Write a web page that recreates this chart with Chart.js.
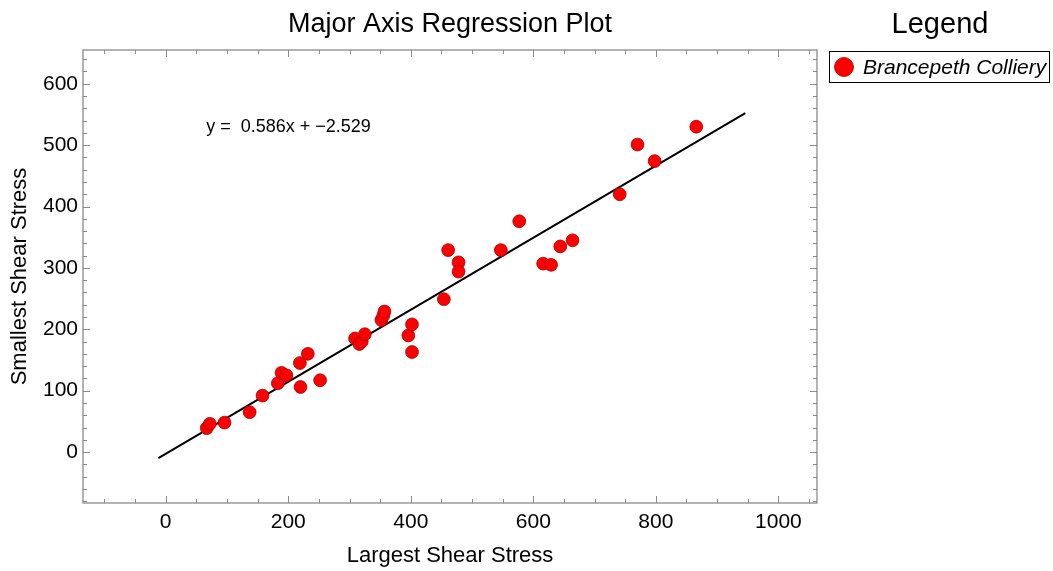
<!DOCTYPE html>
<html>
<head>
<meta charset="utf-8">
<script src="https://cdn.jsdelivr.net/npm/chart.js@4/dist/chart.umd.min.js"></script>
<style>
html,body{margin:0;padding:0;background:#fff;}
#c{display:block;}
</style>
</head>
<body>
<canvas id="c" width="1053" height="571"></canvas>
<script>
// ---- data ----
const largestShear = [67, 72, 96, 137, 158, 183, 189, 197, 220, 219, 232, 252,
  309, 316, 320, 325, 352, 355, 357, 396, 402, 402, 454, 461, 478, 478, 547,
  577, 616, 629, 644, 664, 741, 770, 798, 866];
const smallestShear = [39, 46, 48, 65, 92, 112, 129, 125, 106, 145, 160, 117,
  185, 176, 180, 192, 215, 222, 229, 190, 208, 163, 249, 329, 309, 294, 329,
  376, 307, 305, 335, 345, 420, 501, 474, 530];
const seriesName = 'Brancepeth Colliery';
const lineX = [-12, 946];
const lineY = [-10, 552];
const equationText = 'y =  0.586x + \u22122.529';
const equationAt = [66, 530];
const xTickValues = [0, 200, 400, 600, 800, 1000];
const yTickValues = [0, 100, 200, 300, 400, 500, 600];
const xRange = [-135, 1063];
const yRange = [-83, 655];
const chartTitle = 'Major Axis Regression Plot';
const legendTitle = 'Legend';
const xTitle = 'Largest Shear Stress';
const yTitle = 'Smallest Shear Stress';

const FONT = '"Liberation Sans", Arial, Helvetica, sans-serif';
const points = largestShear.map((x, i) => ({x: x, y: smallestShear[i]}));
const linePts = lineX.map((x, i) => ({x: x, y: lineY[i]}));

const xMinor = []; for (let v = -100; v <= 1050; v += 50) xMinor.push(v);
const yMinor = []; for (let v = -80; v <= 640; v += 20) yMinor.push(v);

const decorPlugin = {
  id: 'decor',
  afterDatasetsDraw(chart) {
    const ctx = chart.ctx, a = chart.chartArea;
    const xs = chart.scales.x, ys = chart.scales.y;
    ctx.save();
    ctx.strokeStyle = '#8a8a8a';
    ctx.lineWidth = 1.3;
    ctx.strokeRect(a.left, a.top, a.right - a.left, a.bottom - a.top);
    ctx.lineWidth = 1;
    ctx.beginPath();
    xMinor.forEach(v => {
      const p = Math.round(xs.getPixelForValue(v)) + 0.5;
      const len = xTickValues.includes(v) ? 7 : 4;
      ctx.moveTo(p, a.bottom); ctx.lineTo(p, a.bottom - len);
      ctx.moveTo(p, a.top); ctx.lineTo(p, a.top + len);
    });
    yMinor.forEach(v => {
      const p = Math.round(ys.getPixelForValue(v)) + 0.5;
      const len = yTickValues.includes(v) ? 7 : 4;
      ctx.moveTo(a.left, p); ctx.lineTo(a.left + len, p);
      ctx.moveTo(a.right, p); ctx.lineTo(a.right - len, p);
    });
    ctx.stroke();
    ctx.restore();
  },
  afterDraw(chart) {
    const ctx = chart.ctx, a = chart.chartArea;
    const xs = chart.scales.x, ys = chart.scales.y;
    ctx.save();
    ctx.fillStyle = '#000';
    ctx.textBaseline = 'middle';
    ctx.textAlign = 'center';
    ctx.font = '27px ' + FONT;
    ctx.fillText(chartTitle, (a.left + a.right) / 2, 25);
    ctx.font = '29px ' + FONT;
    ctx.fillText(legendTitle, 940, 25);
    ctx.font = '18px ' + FONT;
    ctx.textAlign = 'left';
    ctx.fillText(equationText, xs.getPixelForValue(equationAt[0]), ys.getPixelForValue(equationAt[1]));
    ctx.strokeStyle = '#000';
    ctx.lineWidth = 1;
    ctx.strokeRect(829.5, 51.5, 220, 31);
    ctx.beginPath();
    ctx.arc(844, 67, 9.5, 0, Math.PI * 2);
    ctx.fillStyle = '#ff0000';
    ctx.fill();
    ctx.strokeStyle = '#a00000';
    ctx.lineWidth = 0.8;
    ctx.stroke();
    ctx.fillStyle = '#000';
    ctx.font = 'italic 21px ' + FONT;
    ctx.fillText(seriesName, 863, 68);
    ctx.restore();
  }
};

new Chart(document.getElementById('c'), {
  type: 'scatter',
  data: {
    datasets: [
      {
        type: 'line', label: 'fit', data: linePts, borderColor: '#000', borderWidth: 2,
        pointRadius: 0, fill: false, order: 2
      },
      {
        label: seriesName, data: points, backgroundColor: '#ff0000', borderColor: '#a00000',
        borderWidth: 0.8, pointRadius: 6.4, order: 1
      }
    ]
  },
  options: {
    responsive: false, animation: false, devicePixelRatio: 1,
    layout: {padding: {top: 50, right: 236, bottom: 0, left: 0}},
    plugins: {legend: {display: false}, title: {display: false}, tooltip: {enabled: false}},
    scales: {
      x: {
        type: 'linear', min: xRange[0], max: xRange[1],
        afterFit(s) { s.height = 68; },
        afterBuildTicks(s) { s.ticks = xTickValues.map(v => ({value: v})); },
        grid: {display: false, drawTicks: false}, border: {display: false},
        ticks: {font: {family: FONT, size: 21}, color: '#000', padding: 7, maxRotation: 0, autoSkip: false,
          callback: v => String(v)},
        title: {display: true, text: xTitle, color: '#000', font: {family: FONT, size: 22}, padding: {top: 0, bottom: 2}}
      },
      y: {
        type: 'linear', min: yRange[0], max: yRange[1],
        afterFit(s) { s.width = 83; },
        afterBuildTicks(s) { s.ticks = yTickValues.map(v => ({value: v})); },
        grid: {display: false, drawTicks: false}, border: {display: false},
        ticks: {font: {family: FONT, size: 21}, color: '#000', padding: 5, autoSkip: false,
          callback: v => String(v)},
        title: {display: true, text: yTitle, color: '#000', font: {family: FONT, size: 22}, padding: {top: 7, bottom: 0}}
      }
    }
  },
  plugins: [decorPlugin]
});
</script>
</body>
</html>
